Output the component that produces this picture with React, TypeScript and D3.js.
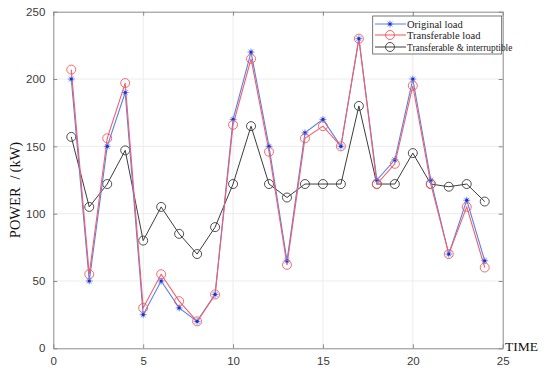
import React, { useEffect, useRef } from 'react';
import * as d3 from 'd3';

const hours = d3.range(1, 25);
const originalLoad = [200, 50, 150, 190, 25, 50, 30, 20, 40, 170, 220, 150, 65, 160, 170, 150, 230, 125, 140, 200, 125, 70, 110, 65];
const transferableLoad = [207, 55, 156, 197, 30, 55, 35, 20, 40, 166, 215, 146, 62, 156, 165, 150, 230, 122, 137, 195, 122, 70, 105, 60];
const interruptibleLoad = [157, 105, 122, 147, 80, 105, 85, 70, 90, 122, 165, 122, 112, 122, 122, 122, 180, 122, 122, 145, 122, 120, 122, 109];
const xTicks = [0, 5, 10, 15, 20, 25];
const yTicks = [0, 50, 100, 150, 200, 250];
const seriesNames = ['Original load', 'Transferable load', 'Transferable & interruptible'];

export default function App() {
  const svgRef = useRef<SVGSVGElement>(null);

  useEffect(() => {
    if (!svgRef.current) return;
    const width = 550;
    const height = 371;
    const margin = { left: 53.3, right: 47.3, top: 11.7, bottom: 22.7 };

    const svg = d3.select(svgRef.current);
    svg.selectAll('*').remove();
    svg.attr('width', width).attr('height', height);

    svg.append('rect').attr('width', width).attr('height', height).attr('fill', '#fff');

    const x = d3.scaleLinear().domain([0, 25]).range([margin.left, width - margin.right]);
    const y = d3.scaleLinear().domain([0, 250]).range([height - margin.bottom, margin.top]);
    const [x0, x1] = x.range();
    const [y0, y1] = y.range();

    // grid
    const grid = svg.append('g').attr('stroke', '#ececec').attr('stroke-width', 1);
    xTicks.slice(1, -1).forEach(t => {
      grid.append('line').attr('x1', x(t)).attr('x2', x(t)).attr('y1', y0).attr('y2', y1);
    });
    yTicks.slice(1, -1).forEach(t => {
      grid.append('line').attr('x1', x0).attr('x2', x1).attr('y1', y(t)).attr('y2', y(t));
    });

    const axisColor = '#8a8a8a';
    svg.append('g').attr('transform', `translate(0,${y0})`)
      .call(d3.axisBottom(x).tickValues(xTicks).tickSizeInner(-4).tickSizeOuter(0).tickPadding(9));
    svg.append('g').attr('transform', `translate(0,${y1})`)
      .call(d3.axisTop(x).tickValues(xTicks).tickSizeInner(-4).tickSizeOuter(0).tickFormat(() => ''));
    svg.append('g').attr('transform', `translate(${x0},0)`)
      .call(d3.axisLeft(y).tickValues(yTicks).tickSizeInner(-4).tickSizeOuter(0).tickPadding(8));
    svg.append('g').attr('transform', `translate(${x1},0)`)
      .call(d3.axisRight(y).tickValues(yTicks).tickSizeInner(-4).tickSizeOuter(0).tickFormat(() => ''));
    svg.selectAll('.domain, .tick line').attr('stroke', axisColor);
    svg.selectAll('.tick text')
      .attr('fill', '#3a3a3a')
      .style('font-family', 'Liberation Sans, Arial, sans-serif')
      .style('font-size', '11.5px');

    const line = d3.line<number>().x((_, i) => x(hours[i])).y(d => y(d));

    const drawStar = (g: d3.Selection<SVGGElement, unknown, null, undefined>, cx: number, cy: number, color: string) => {
      const r = 3.5;
      const s = g.append('g').attr('stroke', color).attr('stroke-width', 1);
      s.append('line').attr('x1', cx - r).attr('x2', cx + r).attr('y1', cy).attr('y2', cy);
      s.append('line').attr('x1', cx).attr('x2', cx).attr('y1', cy - r).attr('y2', cy + r);
      s.append('line').attr('x1', cx - r * 0.7).attr('x2', cx + r * 0.7).attr('y1', cy - r * 0.7).attr('y2', cy + r * 0.7);
      s.append('line').attr('x1', cx - r * 0.7).attr('x2', cx + r * 0.7).attr('y1', cy + r * 0.7).attr('y2', cy - r * 0.7);
      g.append('circle').attr('cx', cx).attr('cy', cy).attr('r', 1.6).attr('fill', '#1a2fd6');
    };

    const plot = svg.append('g');
    // interruptible (black)
    plot.append('path').datum(interruptibleLoad).attr('d', line).attr('fill', 'none').attr('stroke', '#3c3c3c').attr('stroke-width', 1);
    interruptibleLoad.forEach((v, i) => {
      plot.append('circle').attr('cx', x(hours[i])).attr('cy', y(v)).attr('r', 4.5)
        .attr('fill', 'none').attr('stroke', '#3c3c3c').attr('stroke-width', 0.9);
    });
    // original (blue)
    plot.append('path').datum(originalLoad).attr('d', line).attr('fill', 'none').attr('stroke', '#5b7fe8').attr('stroke-width', 1.1);
    // transferable (red)
    plot.append('path').datum(transferableLoad).attr('d', line).attr('fill', 'none').attr('stroke', '#f25f6a').attr('stroke-width', 1.1);
    originalLoad.forEach((v, i) => {
      drawStar(plot, x(hours[i]), y(v), '#6f8ff0');
    });
    transferableLoad.forEach((v, i) => {
      plot.append('circle').attr('cx', x(hours[i])).attr('cy', y(v)).attr('r', 4.5)
        .attr('fill', 'none').attr('stroke', '#f25a5f').attr('stroke-width', 0.9);
    });

    // legend
    const lg = svg.append('g');
    lg.append('rect').attr('x', 372.7).attr('y', 16).attr('width', 129).attr('height', 38)
      .attr('fill', '#fff').attr('stroke', '#555').attr('stroke-width', 0.8);
    const colors = ['#5b7fe8', '#f0535a', '#3c3c3c'];
    const rows = [24, 35, 47];
    seriesNames.forEach((name, i) => {
      const ry = rows[i];
      lg.append('line').attr('x1', 375).attr('x2', 406).attr('y1', ry).attr('y2', ry)
        .attr('stroke', colors[i]).attr('stroke-width', 1);
      if (i === 0) drawStar(lg, 390, ry, '#6f8ff0');
      else lg.append('circle').attr('cx', 390).attr('cy', ry).attr('r', 4.5)
        .attr('fill', 'none').attr('stroke', colors[i]).attr('stroke-width', 0.9);
      lg.append('text').attr('x', 407).attr('y', ry + 3.5).text(name)
        .attr('fill', '#222').style('font-family', 'Liberation Serif, Times New Roman, serif')
        .style('font-size', i === 2 ? '9.4px' : '10.5px');
    });

    // axis labels
    svg.append('text').attr('x', 505).attr('y', 351).text('TIME')
      .attr('fill', '#111').style('font-family', 'Liberation Serif, Times New Roman, serif').style('font-size', '13.5px');
    const yl = svg.append('text').attr('transform', 'translate(20,190) rotate(-90)').attr('text-anchor', 'middle')
      .attr('fill', '#111').style('font-family', 'Liberation Serif, Times New Roman, serif').style('font-size', '14.5px');
    yl.append('tspan').text('POWER');
    yl.append('tspan').attr('dx', 8).text('/');
    yl.append('tspan').attr('dx', 3).text('(kW)');
  }, []);

  return (
    <svg ref={svgRef} style={{ position: 'absolute', left: 0, top: 0 }}></svg>
  );
}
